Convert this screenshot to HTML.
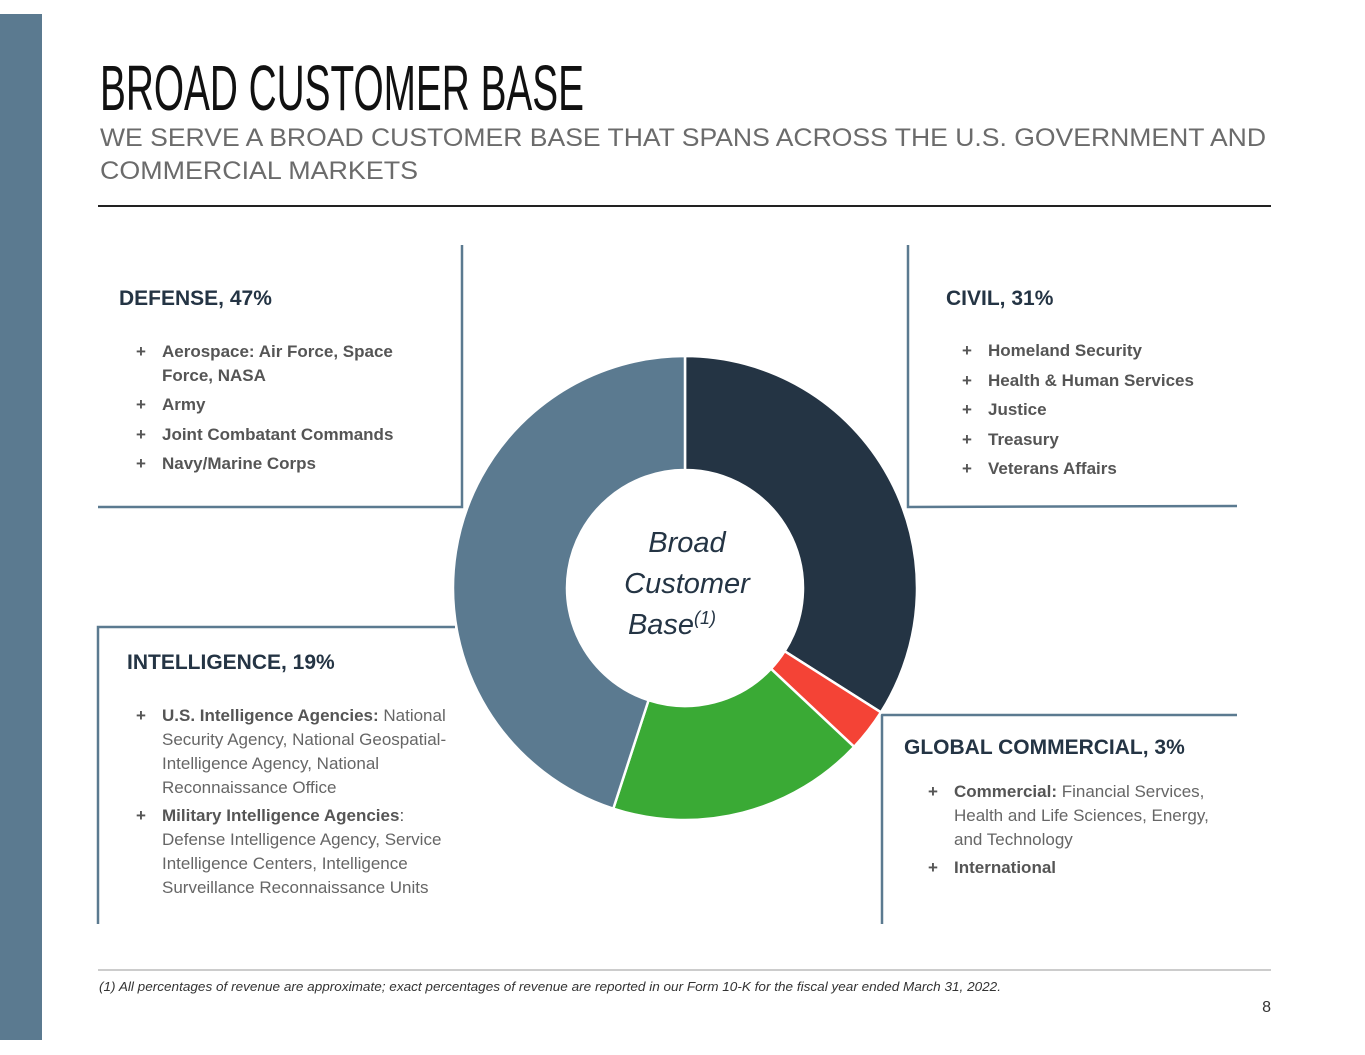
<!DOCTYPE html>
<html><head><meta charset="utf-8"><style>
html,body{margin:0;padding:0;background:#fff;width:1365px;height:1055px;overflow:hidden}
svg{display:block}
text{font-family:"Liberation Sans",sans-serif}
.h{font-weight:bold;font-size:21px;fill:#243444}
.li{font-weight:bold;font-size:17px;fill:#555}
.lt{font-size:17px;fill:#666}
</style></head><body>
<svg width="1365" height="1055">
<rect x="0" y="14" width="42" height="1026" fill="#5b7a90"/>
<text x="100" y="110" font-size="64" textLength="484" lengthAdjust="spacingAndGlyphs" fill="#111">BROAD CUSTOMER BASE</text>
<text x="100" y="146" font-size="25" textLength="1166" lengthAdjust="spacingAndGlyphs" fill="#6b6b6b">WE SERVE A BROAD CUSTOMER BASE THAT SPANS ACROSS THE U.S. GOVERNMENT AND</text>
<text x="100" y="179" font-size="25" textLength="318" lengthAdjust="spacingAndGlyphs" fill="#6b6b6b">COMMERCIAL MARKETS</text>
<line x1="98" y1="206" x2="1271" y2="206" stroke="#222" stroke-width="2"/>
<g stroke="#5b7a90" stroke-width="2.5" fill="none">
<polyline points="462,245 462,507 98,507"/>
<polyline points="908,245 908,507 1237,506"/>
<polyline points="455,627 98,627 98,924"/>
<polyline points="1237,715 882,715 882,924"/>
</g>
<g id="donut"></g>
<text x="687" y="552" text-anchor="middle" font-size="29" font-style="italic" fill="#243444">Broad</text>
<text x="687" y="593" text-anchor="middle" font-size="29" font-style="italic" fill="#243444">Customer</text>
<text x="672" y="634" text-anchor="middle" font-size="29" font-style="italic" fill="#243444">Base<tspan font-size="18" dy="-10">(1)</tspan></text>

<g>
<text x="119" y="305" class="h">DEFENSE, 47%</text>
<text x="136" y="357" class="li">+</text><text x="162" y="357" class="li">Aerospace: Air Force, Space</text>
<text x="162" y="381" class="li">Force, NASA</text>
<text x="136" y="410" class="li">+</text><text x="162" y="410" class="li">Army</text>
<text x="136" y="440" class="li">+</text><text x="162" y="440" class="li">Joint Combatant Commands</text>
<text x="136" y="469" class="li">+</text><text x="162" y="469" class="li">Navy/Marine Corps</text>
</g>
<g>
<text x="946" y="305" class="h">CIVIL, 31%</text>
<text x="962" y="356" class="li">+</text><text x="988" y="356" class="li">Homeland Security</text>
<text x="962" y="386" class="li">+</text><text x="988" y="386" class="li">Health &amp; Human Services</text>
<text x="962" y="415" class="li">+</text><text x="988" y="415" class="li">Justice</text>
<text x="962" y="445" class="li">+</text><text x="988" y="445" class="li">Treasury</text>
<text x="962" y="474" class="li">+</text><text x="988" y="474" class="li">Veterans Affairs</text>
</g>
<g>
<text x="127" y="669" class="h">INTELLIGENCE, 19%</text>
<text x="136" y="721" class="li">+</text><text x="162" y="721" class="li">U.S. Intelligence Agencies: <tspan class="lt" font-weight="normal">National</tspan></text>
<text x="162" y="745" class="lt">Security Agency, National Geospatial-</text>
<text x="162" y="769" class="lt">Intelligence Agency, National</text>
<text x="162" y="793" class="lt">Reconnaissance Office</text>
<text x="136" y="821" class="li">+</text><text x="162" y="821" class="li">Military Intelligence Agencies<tspan font-weight="normal">:</tspan></text>
<text x="162" y="845" class="lt">Defense Intelligence Agency, Service</text>
<text x="162" y="869" class="lt">Intelligence Centers, Intelligence</text>
<text x="162" y="893" class="lt">Surveillance Reconnaissance Units</text>
</g>
<g>
<text x="904" y="754" class="h">GLOBAL COMMERCIAL, 3%</text>
<text x="928" y="797" class="li">+</text><text x="954" y="797" class="li">Commercial: <tspan font-weight="normal" fill="#666">Financial Services,</tspan></text>
<text x="954" y="821" class="lt">Health and Life Sciences, Energy,</text>
<text x="954" y="845" class="lt">and Technology</text>
<text x="928" y="873" class="li">+</text><text x="954" y="873" class="li">International</text>
</g>
<line x1="98" y1="970" x2="1271" y2="970" stroke="#999" stroke-width="1"/>
<text x="99" y="991" font-size="12.5" font-style="italic" fill="#333" textLength="902" lengthAdjust="spacingAndGlyphs">(1)  All percentages of revenue are approximate; exact percentages of revenue are reported in our Form 10-K for the fiscal year ended March 31, 2022.</text>
<text x="1271" y="1012" font-size="16" text-anchor="end" fill="#333">8</text>
</svg>
<script>
const segments = ['Civil','Global Commercial','Intelligence','Defense'];
const shares = [34, 3, 18, 45];
const colors = ['#243444','#f44336','#3aaa35','#5b7a90'];
const cx=685, cy=588, R=232, r=118;
const g=document.getElementById('donut');
const total=shares.reduce((a,b)=>a+b,0);
function pt(a,rad){return [cx+rad*Math.sin(a), cy-rad*Math.cos(a)];}
let acc=0;
shares.forEach((v,i)=>{
  const a0=acc/total*2*Math.PI; acc+=v; const a1=acc/total*2*Math.PI;
  const big=(a1-a0)>Math.PI?1:0;
  const p0=pt(a0,R),p1=pt(a1,R),q1=pt(a1,r),q0=pt(a0,r);
  const p=document.createElementNS('http://www.w3.org/2000/svg','path');
  p.setAttribute('d',`M${p0[0]},${p0[1]} A${R},${R} 0 ${big} 1 ${p1[0]},${p1[1]} L${q1[0]},${q1[1]} A${r},${r} 0 ${big} 0 ${q0[0]},${q0[1]} Z`);
  p.setAttribute('fill',colors[i]);
  p.setAttribute('stroke','#fff');
  p.setAttribute('stroke-width','2.5');
  
  
  g.appendChild(p);
});
</script>
</body></html>
